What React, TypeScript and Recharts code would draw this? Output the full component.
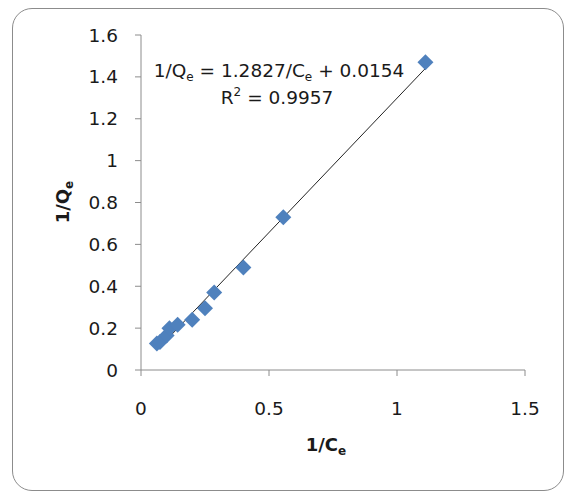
import React from 'react';
import { ScatterChart, Scatter, XAxis, YAxis, ReferenceLine, Customized } from 'recharts';

const xValues = [0.062, 0.074, 0.1, 0.111, 0.143, 0.2, 0.25, 0.286, 0.4, 0.556, 1.111];
const yValues = [0.126, 0.134, 0.165, 0.2, 0.216, 0.24, 0.295, 0.37, 0.49, 0.73, 1.47];
const xTicks = [0, 0.5, 1, 1.5];
const yTicks = [0, 0.2, 0.4, 0.6, 0.8, 1, 1.2, 1.4, 1.6];
const trendStart = { x: 0.062, y: 0.095 };
const trendEnd = { x: 1.111, y: 1.4405 };
const slope = '1.2827';
const intercept = '0.0154';
const rSquared = '0.9957';

const points = xValues.map((x, i) => ({ x, y: yValues[i] }));

const FONT = '"DejaVu Sans", "Open Sans", sans-serif';
const AXIS_COLOR = '#8c8c8c';
const MARKER_COLOR = '#4f81bd';

const Diamond = (props: any) => {
  const { cx, cy } = props;
  if (cx == null || cy == null) return <g />;
  const r = 8;
  return (
    <path
      d={`M${cx},${cy - r} L${cx + r},${cy} L${cx},${cy + r} L${cx - r},${cy} Z`}
      fill={MARKER_COLOR}
    />
  );
};

const Annotations = () => (
  <g fontFamily={FONT} fill="#1a1a1a">
    <text x={279} y={77} fontSize={18.5} textAnchor="middle">
      1/Q<tspan fontSize={12} dy={4}>e</tspan>
      <tspan dy={-4}>{` = ${slope}/C`}</tspan>
      <tspan fontSize={12} dy={4}>e</tspan>
      <tspan dy={-4}>{` + ${intercept}`}</tspan>
    </text>
    <text x={277} y={104} fontSize={18.5} textAnchor="middle">
      R<tspan fontSize={12} dy={-8}>2</tspan>
      <tspan dy={8}>{` = ${rSquared}`}</tspan>
    </text>
    <text
      x={0}
      y={0}
      fontSize={18}
      fontWeight="bold"
      textAnchor="middle"
      transform="translate(69,202) rotate(-90)"
    >
      1/Q<tspan fontSize={12} dy={4}>e</tspan>
    </text>
    <text x={326} y={451} fontSize={18} fontWeight="bold" textAnchor="middle">
      1/C<tspan fontSize={12} dy={4}>e</tspan>
    </text>
  </g>
);

export default function App() {
  return (
    <div style={{ position: 'absolute', left: 0, top: 0, width: 567, height: 495, background: '#fff' }}>
      <div
        style={{
          position: 'absolute',
          left: 12,
          top: 8,
          width: 552,
          height: 483,
          border: '1px solid #8c8c8c',
          borderRadius: 20,
          boxSizing: 'border-box',
        }}
      />
      <div style={{ position: 'absolute', left: 0, top: 0 }}>
        <ScatterChart
          width={567}
          height={495}
          margin={{ top: 35, right: 42, bottom: 95, left: 81 }}
        >
          <XAxis
            type="number"
            dataKey="x"
            domain={[0, 1.5]}
            ticks={xTicks}
            height={30}
            axisLine={{ stroke: AXIS_COLOR }}
            tickLine={{ stroke: AXIS_COLOR }}
            tickSize={6}
            tickMargin={26}
            tick={{ fill: '#1a1a1a', fontSize: 18.5, fontFamily: FONT }}
            interval={0}
          />
          <YAxis
            type="number"
            dataKey="y"
            domain={[0, 1.6]}
            ticks={yTicks}
            width={60}
            axisLine={{ stroke: AXIS_COLOR }}
            tickLine={{ stroke: AXIS_COLOR }}
            tickSize={6}
            tickMargin={17}
            tick={{ fill: '#1a1a1a', fontSize: 18.5, fontFamily: FONT }}
            interval={0}
          />
          <Scatter data={points} shape={<Diamond />} isAnimationActive={false} />
          <ReferenceLine
            segment={[trendStart, trendEnd]}
            stroke="#222"
            strokeWidth={1}
            ifOverflow="visible"
          />
          <Customized component={Annotations} />
        </ScatterChart>
      </div>
    </div>
  );
}
